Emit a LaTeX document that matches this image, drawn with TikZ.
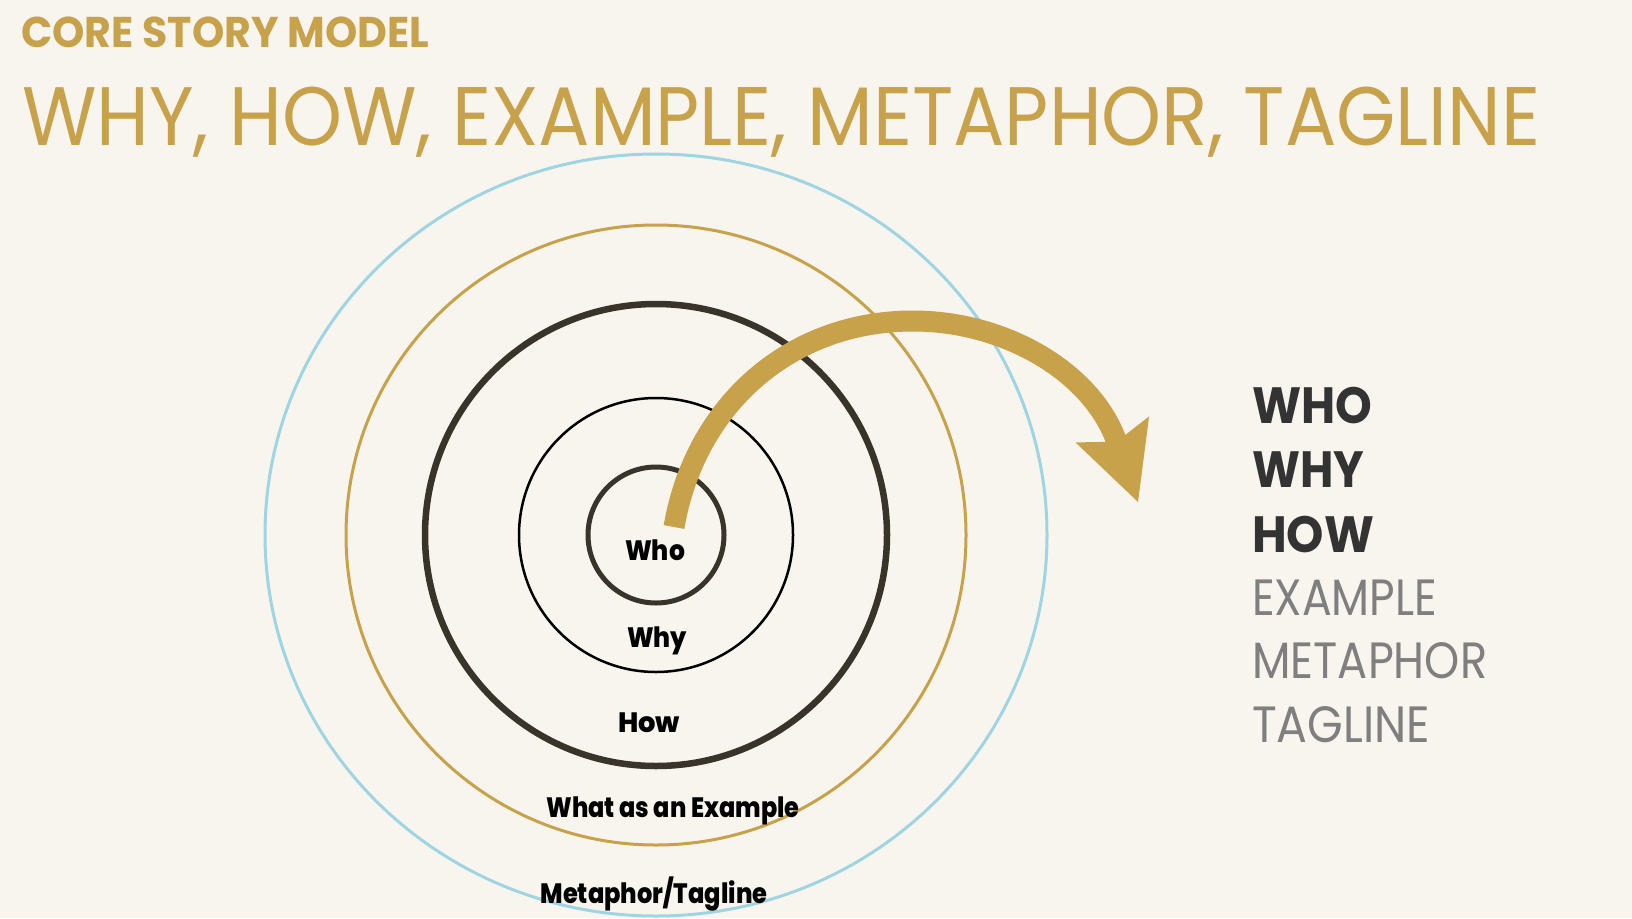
\documentclass[tikz,border=0pt]{standalone}
\usepackage{fontspec}
\setmainfont{Poppins}
\IfFontExistsTF{Poppins ExtraBold}{\newfontfamily\heavyfont{Poppins ExtraBold}}{\newfontfamily\heavyfont{Poppins Bold}}
\usepackage{graphicx}
\usetikzlibrary{arrows.meta}
\definecolor{cream}{HTML}{F8F5EE}
\definecolor{gold}{HTML}{C8A24B}
\definecolor{ringdark}{HTML}{38342A}
\definecolor{skyline}{HTML}{9FD4E3}
\definecolor{listdark}{HTML}{333333}
\definecolor{listgrey}{HTML}{7F7F7F}
\newcommand{\fitto}[2]{\resizebox{#1}{\height}{#2}}

\begin{document}
\begin{tikzpicture}[x=1pt,y=-1pt,
  ringlabel/.style={anchor=base,inner sep=0pt,font=\heavyfont\fontsize{28}{28}\selectfont},
  listbold/.style={anchor=base west,inner sep=0pt,text=listdark,font=\bfseries\fontsize{51}{51}\selectfont},
  listlight/.style={anchor=base west,inner sep=0pt,text=listgrey,font=\fontsize{51}{51}\selectfont}]
  \fill[cream] (0,0) rectangle (1632,918);
  \useasboundingbox (0,0) rectangle (1632,918);
  \coordinate (core) at (656,535);
  \draw[skyline,line width=3pt] (core) ellipse [x radius=391,y radius=381];
  \draw[gold,line width=3pt] (core) circle [radius=310];
  \draw[ringdark,line width=6.5pt] (core) circle [radius=231];
  \draw[black,line width=2.5pt] (core) circle [radius=137];
  \draw[ringdark,line width=5pt] (core) circle [radius=68];
  % the big arrow runs out of the core to the list
  \coordinate (arrowtail) at (674,527);
  \coordinate (arrowtop) at (913,321);
  \coordinate (arrowtip) at (1138,502);
  \draw[gold,line width=21pt,-{Stealth[length=77pt,width=78pt,inset=13pt,line width=0pt]}]
    (arrowtail) .. controls (695,405) and (790,321) .. (arrowtop)
    .. controls (1005,321) and (1092,372) .. (arrowtip);
  \node[anchor=base west,inner sep=0pt,text=gold,font=\bfseries\fontsize{43}{43}\selectfont] (kicker) at (21,48) {\fitto{408pt}{CORE STORY MODEL}};
  \node[anchor=base west,inner sep=0pt,text=gold,font=\fontsize{83}{83}\selectfont] (headline) at (22,145) {\fitto{1518pt}{WHY, HOW, EXAMPLE, METAPHOR, TAGLINE}};
  \node[ringlabel] (lblwho) at (655,560) {\fitto{60pt}{Who}};
  \node[ringlabel] (lblwhy) at (657,647) {\fitto{60pt}{Why}};
  \node[ringlabel] (lblhow) at (649,732) {\fitto{62pt}{How}};
  \node[ringlabel] (lblexample) at (673,817) {\fitto{253pt}{What as an Example}};
  \node[ringlabel] (lblmetaphor) at (654,903) {\fitto{227pt}{Metaphor/Tagline}};
  \node[listbold] (itemwho) at (1252,423) {\fitto{120pt}{WHO}};
  \node[listbold] (itemwhy) at (1252,487) {\fitto{112pt}{WHY}};
  \node[listbold] (itemhow) at (1252,552) {\fitto{122pt}{HOW}};
  \node[listlight] (itemexample) at (1252,615) {\fitto{185pt}{EXAMPLE}};
  \node[listlight] (itemmetaphor) at (1252,678) {\fitto{235pt}{METAPHOR}};
  \node[listlight] (itemtagline) at (1252,742) {\fitto{178pt}{TAGLINE}};
\end{tikzpicture}
\end{document}
